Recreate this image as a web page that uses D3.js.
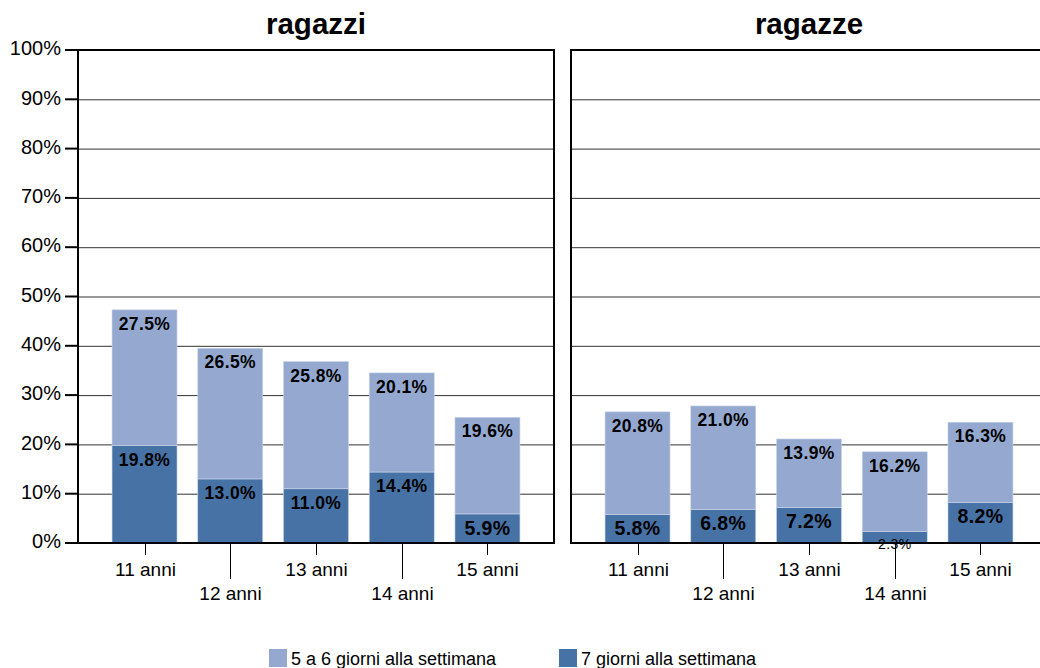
<!DOCTYPE html>
<html>
<head>
<meta charset="utf-8">
<title>ragazzi / ragazze</title>
<style>
  body { margin: 0; background: #fff; }
  svg { display: block; }
  text { font-family: "Liberation Sans", Arial, sans-serif; fill: #000; }
</style>
<script src="https://cdn.jsdelivr.net/npm/d3@7"></script>
</head>
<body>
<svg id="chart" width="1040" height="668"></svg>
<script>
// data
const ages = ['11 anni', '12 anni', '13 anni', '14 anni', '15 anni'];
const panels = ['ragazzi', 'ragazze'];
const seriesNames = ['7 giorni alla settimana', '5 a 6 giorni alla settimana'];
const boysDaily = [19.8, 13.0, 11.0, 14.4, 5.9];
const boysFiveSix = [27.5, 26.5, 25.8, 20.1, 19.6];
const girlsDaily = [5.8, 6.8, 7.2, 2.3, 8.2];
const girlsFiveSix = [20.8, 21.0, 13.9, 16.2, 16.3];
const yTicks = [0, 10, 20, 30, 40, 50, 60, 70, 80, 90, 100];

const colors = { '7 giorni alla settimana': '#4672a6', '5 a 6 giorni alla settimana': '#95a9d0' };

const svg = d3.select('#chart');
const plotTop = 50, plotBottom = 543;
const y = d3.scaleLinear().domain([0, 100]).range([plotBottom, plotTop]);

const panelRanges = [[78, 554], [571, 1047]];
const panelData = [
  { name: panels[0], daily: boysDaily, fiveSix: boysFiveSix },
  { name: panels[1], daily: girlsDaily, fiveSix: girlsFiveSix }
];

panelData.forEach((p, pi) => {
  const [x0, x1] = panelRanges[pi];
  const x = d3.scaleBand().domain(ages).range([x0, x1])
    .paddingInner(0.242).paddingOuter(0.397);
  const g = svg.append('g');

  // gridlines
  g.selectAll('line.grid').data(yTicks.filter(t => t > 0 && t < 100)).join('line')
    .attr('x1', x0).attr('x2', x1)
    .attr('y1', d => y(d) + 0.5).attr('y2', d => y(d) + 0.5)
    .attr('stroke', '#333').attr('stroke-width', 1);

  // stacked bars
  const rows = ages.map((a, i) => ({ age: a, '7 giorni alla settimana': p.daily[i], '5 a 6 giorni alla settimana': p.fiveSix[i] }));
  const stack = d3.stack().keys(seriesNames)(rows);
  stack.forEach(layer => {
    g.selectAll(null).data(layer).join('rect')
      .attr('x', d => x(d.data.age))
      .attr('width', x.bandwidth())
      .attr('y', d => y(d[1]))
      .attr('height', d => y(d[0]) - y(d[1]))
      .attr('fill', colors[layer.key])
      .attr('stroke', '#c9d4ea').attr('stroke-width', 0.6);
    g.selectAll(null).data(layer).join('text')
      .attr('x', d => x(d.data.age) + x.bandwidth() / 2)
      .attr('y', d => {
        const v = d[1] - d[0];
        return y(d[1]) + (v < 3 ? 14 : 15.5);
      })
      .attr('dominant-baseline', 'middle')
      .attr('text-anchor', 'middle')
      .attr('letter-spacing', 0.4)
      .attr('font-weight', d => (d[1] - d[0]) < 3 ? 'normal' : 'bold')
      .attr('font-size', d => {
        const v = d[1] - d[0];
        if (v < 3) return 14;
        if (layer.key === seriesNames[0] && v < 10) return 19.5;
        return 17.5;
      })
      .text(d => (d[1] - d[0]).toFixed(1) + '%');
  });

  // frame
  g.append('rect')
    .attr('x', x0).attr('y', plotTop).attr('width', x1 - x0).attr('height', plotBottom - plotTop)
    .attr('fill', 'none').attr('stroke', '#000').attr('stroke-width', 2);

  // x ticks and labels
  ages.forEach((a, i) => {
    const cx = Math.round(x(a) + x.bandwidth() / 2) + 0.5;
    const long = i % 2 === 1;
    g.append('line')
      .attr('x1', cx).attr('x2', cx)
      .attr('y1', plotBottom).attr('y2', long ? 579 : 555)
      .attr('stroke', '#000').attr('stroke-width', 1);
    g.append('text')
      .attr('x', cx).attr('y', long ? 600 : 576)
      .attr('text-anchor', 'middle')
      .attr('font-size', 19)
      .text(a);
  });

  // title
  g.append('text')
    .attr('x', (x0 + x1) / 2).attr('y', 34)
    .attr('text-anchor', 'middle')
    .attr('font-size', 29.5).attr('font-weight', 'bold')
    .text(p.name);
});

// y axis ticks on left panel
const yAxis = svg.append('g');
yAxis.selectAll('line').data(yTicks).join('line')
  .attr('x1', 65).attr('x2', 78)
  .attr('y1', d => y(d)).attr('y2', d => y(d))
  .attr('stroke', '#000').attr('stroke-width', 2);
yAxis.selectAll('text').data(yTicks).join('text')
  .attr('x', 61).attr('y', d => y(d))
  .attr('dominant-baseline', 'middle')
  .attr('text-anchor', 'end')
  .attr('font-size', 20)
  .text(d => d + '%');

// legend
const legendItems = [seriesNames[1], seriesNames[0]];
const legendX = [269, 559];
legendItems.forEach((s, i) => {
  svg.append('rect')
    .attr('x', legendX[i]).attr('y', 649).attr('width', 18).attr('height', 18)
    .attr('fill', colors[s]);
  svg.append('text')
    .attr('x', legendX[i] + 22).attr('y', 665)
    .attr('font-size', 18)
    .text(s);
});
</script>
</body>
</html>
